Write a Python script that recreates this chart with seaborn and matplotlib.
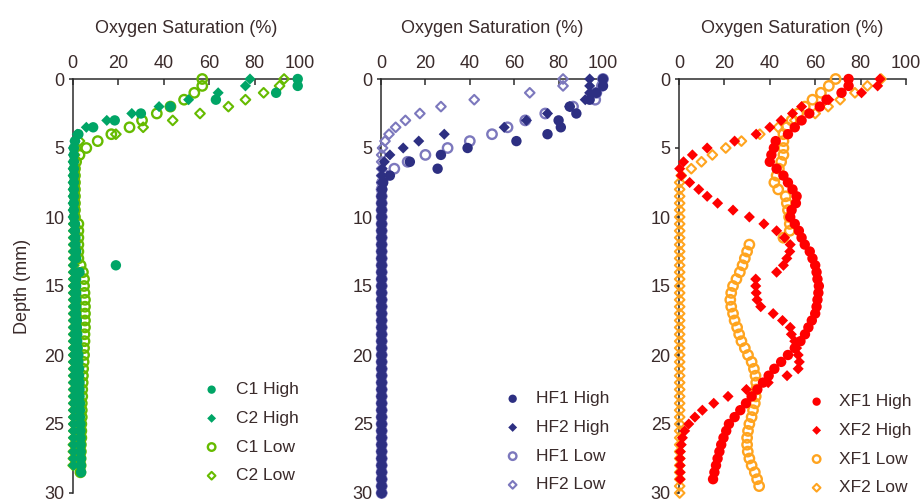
import numpy as np
import pandas as pd
import matplotlib
matplotlib.use("Agg")
import matplotlib.pyplot as plt
import seaborn as sns

sns.set_style("ticks")
plt.rcParams["font.family"] = ["Liberation Sans", "DejaVu Sans"]
TXT = "#3a2b2b"
AX = "#2b2b2b"

# depth grid of the profiles (mm), one reading every 0.5 mm
DEPTH = np.arange(0, 30.5, 0.5)

# ---- control (C) ----
c1_high = [99, 99, 89.5, 63, 43, 30, 18.5, 9, 2.5, 1.0, 0.5,
           0.5, 0.5, 0.5, 0.5, 0.5, 0.5, 0.5, 0.5, 0.5, 0.5,
           1.0, 1.0, 1.2, 1.2, 1.5, 1.5, 19, 3.0, 1.5, 1.5,
           1.5, 1.5, 1.5, 1.5, 1.8, 1.8, 2.0, 2.0, 2.2, 2.5,
           2.5, 2.8, 2.8, 3.0, 3.0, 3.0, 3.2, 3.2, 3.2, 3.4,
           3.4, 3.5, 3.5, 3.5, 3.6, 3.6, 3.7]
c2_high = [78, 76, 64, 51, 38, 26, 15, 6, 2, 1, 0.3,
           0.3, 0.2, 0.2, 0.2, 0.2, 0.2, 0.2, 0.2, 0.2, 0.2,
           0.3, 0.3, 0.3, 0.3, 0.3, 0.3, 0.3, 0.3, 0.3, 0.3,
           0.3, 0.3, 0.3, 0.3, 0.3, 0.3, 0.3, 0.3, 0.3, 0.3,
           0.3, 0.3, 0.3, 0.3, 0.3, 0.3, 0.3, 0.3, 0.3, 0.3,
           0.3, 0.3, 0.3, 0.3, 0.3, 0.3]
c1_low = [57, 57, 53.5, 49, 43, 37, 30.5, 25, 17, 11, 6,
          3, 1.5, 1, 1, 1, 1, 1, 1, 1, 1,
          2.5, 2.5, 2.5, 2.5, 2.5, 2.5, 3.5, 4.5, 5, 5,
          5.2, 5.4, 5.4, 5.4, 5.4, 5.4, 5.2, 5.2, 5, 5,
          4.8, 4.6, 4.5, 4.4, 4.2, 4.2, 4, 4, 4, 3.8,
          3.8, 3.8, 3.6, 3.6, 3.5, 3.5, 3.4]
c2_low = [93, 91, 84, 76, 68.5, 56, 44, 31, 19, 3, 1.5,
          0.8, 0.5, 0.5, 0.5, 0.5, 0.5, 0.5, 0.5, 0.5, 0.5,
          0.5, 0.5, 0.5, 0.5, 0.5, 0.5, 0.5, 0.5, 0.5, 0.5,
          0.5, 0.5, 0.5, 0.5, 0.5, 0.5, 0.5, 0.5, 0.5, 0.5,
          0.5, 0.5, 0.5, 0.5, 0.5, 0.5, 0.5, 0.5, 0.5, 0.5,
          0.5, 0.5, 0.3, 0.3, 0.3, 0.2]

# ---- HF ----
hf1_high = [100, 100, 97, 94, 85, 88, 80, 81, 75, 61, 39,
            27, 13, 25.5, 4, 1, 0.5, 0.3, 0.3, 0.3, 0.3,
            0.3, 0.3, 0.3, 0.3, 0.3, 0.3, 0.3, 0.3, 0.3, 0.3,
            0.3, 0.3, 0.3, 0.3, 0.3, 0.3, 0.3, 0.3, 0.3, 0.3,
            0.3, 0.3, 0.3, 0.3, 0.3, 0.3, 0.3, 0.3, 0.3, 0.3,
            0.3, 0.3, 0.3, 0.3, 0.3, 0.3, 0.3, 0.3, 0.3, 0.3]
hf2_high = [94, 94, 94, 92, 85, 75, 65.5, 55.5, 28.5, 17, 10,
            4, 1.5, 0.5, 0.3, 0.3, 0.3, 0.3, 0.3, 0.3, 0.3,
            0.3, 0.3, 0.3, 0.3, 0.3, 0.3, 0.3, 0.3, 0.3, 0.3,
            0.3, 0.3, 0.3, 0.3, 0.3, 0.3, 0.3, 0.3, 0.3, 0.3,
            0.3, 0.3, 0.3, 0.3, 0.3, 0.3, 0.3, 0.3, 0.3, 0.3,
            0.3, 0.3, 0.3, 0.3, 0.3, 0.3, 0.3, 0.3, 0.3, 0.3]
hf1_low = [100, 99.5, 97, 96.5, 86.5, 74, 65, 57, 50, 40, 30,
           20, 12, 6, 2, 0.5, 0.3, 0.3, 0.3, 0.3, 0.3,
           0.3, 0.3, 0.3, 0.3, 0.3, 0.3, 0.3, 0.3, 0.3, 0.3,
           0.3, 0.3, 0.3, 0.3, 0.3, 0.3, 0.3, 0.3, 0.3, 0.3,
           0.3, 0.3, 0.3, 0.3, 0.3, 0.3, 0.3, 0.3, 0.3, 0.3,
           0.3, 0.3, 0.3, 0.3, 0.3, 0.3, 0.3, 0.3, 0.3, 0.3]
hf2_low = [82, 82, 67, 42, 27, 17.5, 11, 6.6, 3.6, 1.8, 0.7,
           0.3, 0.3, 0.3, 0.3, 0.3, 0.3, 0.3, 0.3, 0.3, 0.3,
           0.3, 0.3, 0.3, 0.3, 0.3, 0.3, 0.3, 0.3, 0.3, 0.3,
           0.3, 0.3, 0.3, 0.3, 0.3, 0.3, 0.3, 0.3, 0.3, 0.3,
           0.3, 0.3, 0.3, 0.3, 0.3, 0.3, 0.3, 0.3, 0.3, 0.3,
           0.3, 0.3, 0.3, 0.3, 0.3, 0.3, 0.3, 0.3, 0.3, 0.3]

# ---- XF ----
xf1_high = [74.7, 74.7, 71.6, 65, 62, 57.4, 54, 51, 48, 42.6,
            41.8, 40.7, 40, 43, 46, 48, 50, 51.8, 51.5, 49.6,
            49, 51, 52.8, 54, 55.4, 57.6, 58.8, 60, 60.6, 61,
            61.6, 61.4, 61, 60.6, 60, 58.5, 57, 55.5, 53.5, 51,
            48, 45, 42, 39.5, 37, 34.5, 32, 29.5, 27, 24.5,
            22, 20.8, 19.6, 18.6, 17.8, 17, 16.3, 15.6, 15]
xf2_high = [88.5, 87.5, 80.4, 66, 54, 50, 45, 40, 34, 24.5,
            12.4, 5.9, 2, 0.3, 1, 4.7, 8.7, 12.4, 17, 23.8,
            31, 37.4, 43, 46.5, 49, 48.8, 47.5, 46, 43, 33.8,
            33.8, 34, 34.4, 36, 41.5, 45.6, 49, 49.5, 51, 51.8,
            52.5, 53, 52.5, 47.6, 39.3, 29.7, 21.6, 15.3, 10.3, 7,
            4.3, 2.5, 1.5, 1, 0.6, 0.5, 0.5, 0.5, 0.5]
xf1_low = [69, 66, 62.5, 58.8, 55.4, 52.5, 49.6, 47.4, 46, 46,
           46, 46, 45, 44, 43, 42, 43.7, 47, 47.5, 48,
           48.5, 48.8, 48.8, 46, 31, 30, 29, 28, 26.8, 25.3,
           23.8, 23, 22.6, 23, 23.8, 24.5, 25.6, 26.5, 27.5, 29,
           30.4, 32, 33, 33.7, 34, 34, 33.8, 33.4, 32.6, 32,
           31, 30.4, 30, 30, 30.3, 31, 32, 33.4, 34.4, 35.3]
xf2_low = [89, 83, 77.5, 71, 65.7, 60, 51, 43.7, 35.6, 27.5,
           20.6, 14.7, 9.9, 5.4, 1, 0.3, 0.3, 0.3, 0.3, 0.3,
           0.3, 0.3, 0.3, 0.3, 0.3, 0.3, 0.3, 0.3, 0.3, 0.3,
           0.3, 0.3, 0.3, 0.3, 0.3, 0.3, 0.3, 0.3, 0.3, 0.3,
           0.3, 0.3, 0.3, 0.3, 0.3, 0.3, 0.3, 0.3, 0.3, 0.3,
           0.3, 0.3, 0.3, 0.3, 0.3, 0.3, 0.3, 0.3, 0.3, 0.3, 0.3]

panels = [
    {"names": ["C1 High", "C2 High", "C1 Low", "C2 Low"],
     "data": [c1_high, c2_high, c1_low, c2_low],
     "high": "#00a566", "low": "#66bb00",
     "rect": [72.7, 227.3], "leg": (0.573, 0.268), "pad": 0.89},
    {"names": ["HF1 High", "HF2 High", "HF1 Low", "HF2 Low"],
     "data": [hf1_high, hf2_high, hf1_low, hf2_low],
     "high": "#2d2f82", "low": "#7c78bd",
     "rect": [381, 222], "leg": (0.554, 0.246), "pad": 0.83},
    {"names": ["XF1 High", "XF2 High", "XF1 Low", "XF2 Low"],
     "data": [xf1_high, xf2_high, xf1_low, xf2_low],
     "high": "#ff0000", "low": "#ffa41f",
     "rect": [679, 227], "leg": (0.568, 0.239), "pad": 0.8},
]

fig = plt.figure(figsize=(9.22, 5), dpi=100)
W, H = 922, 500
top_px, bot_px = 79, 493

for i, p in enumerate(panels):
    x0, w = p["rect"]
    ax = fig.add_axes([x0 / W, 1 - bot_px / H, w / W, (bot_px - top_px) / H])
    styles = [
        dict(marker="o", s=56, color=p["high"], edgecolor="none", zorder=4),
        dict(marker="D", s=32, color=p["high"], edgecolor="none", zorder=4),
        dict(marker="o", s=46, color=p["low"], facecolor="none",
             edgecolor=p["low"], linewidth=1.7, zorder=3),
        dict(marker="D", s=24, color=p["low"], facecolor="none",
             edgecolor=p["low"], linewidth=1.5, zorder=3),
    ]
    for name, vals, st in zip(p["names"], p["data"], styles):
        df = pd.DataFrame({"sat": vals, "depth": DEPTH[:len(vals)]})
        sns.scatterplot(data=df, x="sat", y="depth", ax=ax, label=name,
                        clip_on=False, **st)

    ax.set_xlim(0, 100)
    ax.set_ylim(30, 0)
    ax.set_xticks([0, 20, 40, 60, 80, 100])
    ax.set_yticks([0, 5, 10, 15, 20, 25, 30])
    ax.xaxis.tick_top()
    ax.xaxis.set_label_position("top")
    for s in ["right", "bottom"]:
        ax.spines[s].set_visible(False)
    for s in ["top", "left"]:
        ax.spines[s].set_color(AX)
        ax.spines[s].set_linewidth(1.1)
    ax.tick_params(axis="x", direction="in", length=4, width=1.1, pad=5,
                   labelsize=13, colors=AX, labelcolor=TXT)
    ax.tick_params(axis="y", direction="out", length=3, width=1.1, pad=3,
                   labelsize=13, colors=AX, labelcolor=TXT)
    ax.set_xlabel("Oxygen Saturation (%)", fontsize=13, color=TXT)
    ax.xaxis.set_label_coords(0.5, 1.11)
    if i == 0:
        ax.set_ylabel("Depth (mm)", fontsize=13, color=TXT)
        ax.yaxis.set_label_coords(-0.185, 0.5)
    else:
        ax.set_ylabel("")

    leg = ax.legend(loc="upper left", bbox_to_anchor=p["leg"], frameon=False,
                    fontsize=12.5, handlelength=1, handletextpad=p["pad"],
                    labelspacing=0.78, borderpad=0, borderaxespad=0,
                    markerscale=0.8)
    for t in leg.get_texts():
        t.set_color(TXT)

fig.savefig("out.png", dpi=100)
